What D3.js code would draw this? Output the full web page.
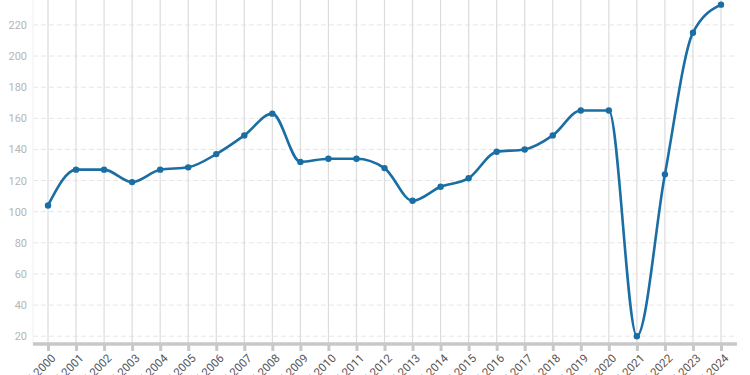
<!DOCTYPE html>
<html>
<head>
<meta charset="utf-8">
<script src="https://cdn.jsdelivr.net/npm/d3@7"></script>
<style>
	body { margin: 0; background: #fff; }
	svg { display: block; font-family: Roboto, "Noto Sans", sans-serif; }
</style>
</head>
<body>
<svg id="chart" width="750" height="375"></svg>
<script>
var YEARS = ["2000","2001","2002","2003","2004","2005","2006","2007","2008","2009","2010","2011","2012",
	"2013","2014","2015","2016","2017","2018","2019","2020","2021","2022","2023","2024"];
var LABELS = YEARS.map(function(y) { return "Q4 " + y; });
var VALUES = [104, 127, 127, 119, 127, 128.5, 137, 149, 163, 132, 134, 134, 128,
	107, 116, 121.5, 138.5, 140, 149, 165, 165, 20, 124, 215, 233];
var Y_TICKS = [20, 40, 60, 80, 100, 120, 140, 160, 180, 200, 220];

var svg = d3.select("#chart");
var left = 33, right = 737, bottom = 344;

var x = d3.scalePoint()
	.domain(LABELS)
	.range([48, 721]);

var y = d3.scaleLinear()
	.domain([15, 236])
	.range([bottom, 0]);

// horizontal grid, dashed
svg.append("g")
	.selectAll("line")
	.data(Y_TICKS)
	.join("line")
	.attr("x1", left)
	.attr("x2", right - 2)
	.attr("y1", function(d) { return y(d); })
	.attr("y2", function(d) { return y(d); })
	.attr("stroke", "#e6e6e6")
	.attr("stroke-dasharray", "5,3");

// left faint border
svg.append("line")
	.attr("x1", left).attr("x2", left)
	.attr("y1", 0).attr("y2", bottom)
	.attr("stroke", "#f0f0f0");

// vertical grid
svg.append("g")
	.selectAll("line")
	.data(LABELS)
	.join("line")
	.attr("x1", function(d) { return x(d); })
	.attr("x2", function(d) { return x(d); })
	.attr("y1", 0)
	.attr("y2", bottom)
	.attr("stroke", "#dcdcdc")
	.attr("stroke-width", 1.2);

// y labels
var yAxis = svg.append("g")
	.attr("transform", "translate(" + (left - 6) + ",0)")
	.call(d3.axisLeft(y).tickValues(Y_TICKS).tickSize(0).tickPadding(0));
yAxis.select(".domain").remove();
yAxis.selectAll("text")
	.attr("fill", "#b5b5b5")
	.attr("font-size", 11)
	.attr("font-family", "Roboto, sans-serif");

// x axis
var xAxis = svg.append("g")
	.attr("transform", "translate(0," + bottom + ")")
	.call(d3.axisBottom(x).tickSize(7).tickSizeOuter(0).tickPadding(4));
xAxis.select(".domain")
	.attr("d", "M" + left + ",0H" + right)
	.attr("stroke", "#c8c8c8")
	.attr("stroke-width", 3.5);
xAxis.selectAll(".tick line")
	.attr("stroke", "#c8c8c8")
	.attr("stroke-width", 3);
// labels run off the bottom edge, as in the original
xAxis.selectAll("text")
	.attr("fill", "#555")
	.attr("font-size", 11.5)
	.attr("font-family", "Roboto, sans-serif")
	.attr("text-anchor", "end")
	.attr("y", 0)
	.attr("dy", "0.35em")
	.attr("transform", "translate(5,12) rotate(-45)");

// line
var data = LABELS.map(function(l, i) { return { label: l, value: VALUES[i] }; });
var line = d3.line()
	.x(function(d) { return x(d.label); })
	.y(function(d) { return y(d.value); })
	.curve(d3.curveMonotoneX);

svg.append("path")
	.datum(data)
	.attr("d", line)
	.attr("fill", "none")
	.attr("stroke", "#1a6ea3")
	.attr("stroke-width", 2.6);

svg.append("g")
	.selectAll("circle")
	.data(data)
	.join("circle")
	.attr("cx", function(d) { return x(d.label); })
	.attr("cy", function(d) { return y(d.value); })
	.attr("r", 3.2)
	.attr("fill", "#1a6ea3");
</script>
</body>
</html>
